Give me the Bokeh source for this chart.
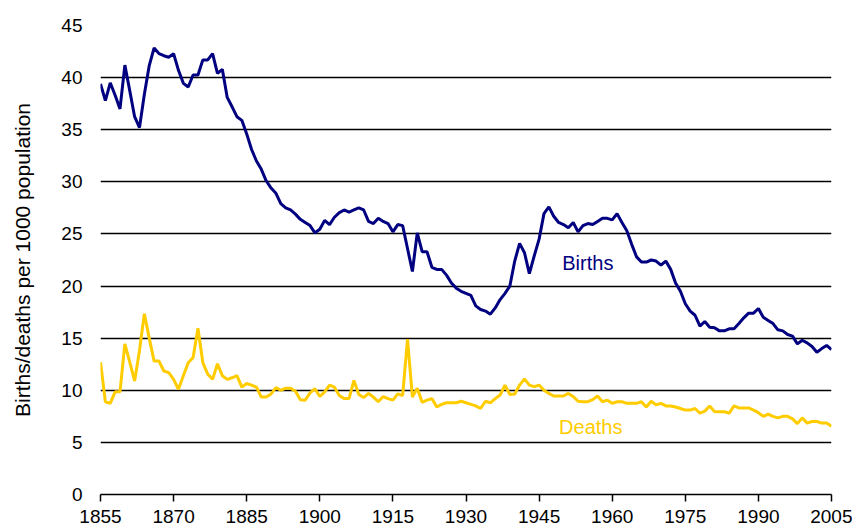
from bokeh.plotting import figure
from bokeh.models import FixedTicker, Range1d
from bokeh.core.properties import value
from bokeh.embed import file_html
from bokeh.resources import INLINE

years = list(range(1855, 2006))

births = [
    39.4, 37.8, 39.5, 38.3, 37.0,                        # 1855-1859
    41.2, 38.75, 36.25, 35.2, 38.4, 41.15, 42.85, 42.3, 42.1, 41.95,   # 1860s
    42.3, 40.7, 39.45, 39.1, 40.25, 40.25, 41.7, 41.7, 42.3, 40.4,     # 1870s
    40.8, 38.1, 37.2, 36.25, 35.9, 34.6, 33.1, 32.0, 31.2, 30.1,       # 1880s
    29.4, 28.9, 27.9, 27.5, 27.3, 26.9, 26.4, 26.1, 25.8, 25.1,        # 1890s
    25.45, 26.3, 25.9, 26.6, 27.05, 27.3, 27.1, 27.3, 27.5, 27.3,      # 1900s
    26.2, 26.0, 26.5, 26.2, 26.0, 25.2, 25.9, 25.8, 23.6, 21.4,        # 1910s
    25.1, 23.3, 23.3, 21.8, 21.6, 21.6, 21.05, 20.3, 19.8, 19.5,       # 1920s
    19.3, 19.1, 18.1, 17.75, 17.6, 17.3, 17.9, 18.7, 19.3, 20.0,       # 1930s
    22.4, 24.1, 23.2, 21.2, 22.9, 24.5, 26.95, 27.6, 26.7, 26.1,       # 1940s
    25.9, 25.6, 26.1, 25.2, 25.8, 26.0, 25.9, 26.2, 26.5, 26.5,        # 1950s
    26.35, 26.95, 26.1, 25.3, 24.0, 22.8, 22.3, 22.3, 22.5, 22.4,      # 1960s
    22.0, 22.4, 21.6, 20.3, 19.5, 18.3, 17.6, 17.2, 16.15, 16.6,       # 1970s
    16.05, 16.0, 15.7, 15.7, 15.9, 15.9, 16.4, 16.95, 17.4, 17.4,      # 1980s
    17.85, 17.0, 16.7, 16.4, 15.8, 15.7, 15.35, 15.2, 14.45, 14.8,     # 1990s
    14.55, 14.2, 13.65, 14.0, 14.3, 13.9,                              # 2000-2005
]

deaths = [
    12.7, 8.9, 8.75, 9.85, 9.85,                                       # 1855-1859
    14.45, 12.7, 10.9, 13.8, 17.35, 15.0, 12.8, 12.8, 11.85, 11.7,     # 1860s
    11.05, 10.1, 11.4, 12.65, 13.15, 15.95, 12.65, 11.55, 11.05, 12.55,  # 1870s
    11.4, 11.05, 11.2, 11.4, 10.3, 10.65, 10.5, 10.3, 9.35, 9.35,      # 1880s
    9.65, 10.25, 10.0, 10.2, 10.2, 9.9, 9.1, 9.05, 9.75, 10.15,        # 1890s
    9.4, 9.85, 10.5, 10.3, 9.5, 9.2, 9.2, 10.95, 9.6, 9.3,             # 1900s
    9.7, 9.35, 8.9, 9.4, 9.2, 9.05, 9.65, 9.5, 14.9, 9.35,             # 1910s
    10.2, 8.85, 9.05, 9.2, 8.4, 8.65, 8.8, 8.8, 8.8, 8.95,             # 1920s
    8.8, 8.65, 8.5, 8.25, 8.95, 8.8, 9.2, 9.55, 10.5, 9.6,             # 1930s
    9.65, 10.5, 11.1, 10.5, 10.35, 10.5, 10.0, 9.7, 9.45, 9.45,        # 1940s
    9.45, 9.7, 9.4, 8.95, 8.9, 8.9, 9.1, 9.45, 8.9, 9.05,              # 1950s
    8.75, 8.9, 8.9, 8.75, 8.75, 8.75, 8.9, 8.4, 8.95, 8.6,             # 1960s
    8.75, 8.5, 8.5, 8.4, 8.25, 8.1, 8.1, 8.25, 7.8, 8.0,               # 1970s
    8.5, 7.95, 7.95, 7.95, 7.8, 8.5, 8.3, 8.3, 8.3, 8.1,               # 1980s
    7.85, 7.5, 7.7, 7.5, 7.35, 7.5, 7.5, 7.25, 6.8, 7.35,              # 1990s
    6.85, 7.0, 7.0, 6.85, 6.85, 6.55,                                  # 2000-2005
]

x_ticks = list(range(1855, 2006, 15))
y_ticks = list(range(0, 46, 5))

series_labels = ["Births", "Deaths"]
label_x = [1955.0, 1955.6]
label_y = [22.2, 6.45]

NAVY = "#000080"
GOLD = "#FFCC00"
FONT = "Liberation Sans"

p = figure(width=852, height=530, output_backend="svg", toolbar_location=None,
           x_range=Range1d(1855, 2005), y_range=Range1d(0, 45),
           min_border_left=100, min_border_right=21,
           min_border_top=25, min_border_bottom=36)
p.outline_line_color = None
p.background_fill_color = "white"
p.border_fill_color = "white"

p.line(years, births, line_color=NAVY, line_width=3)
p.line(years, deaths, line_color=GOLD, line_width=3)

p.text(x=[label_x[0]], y=[label_y[0]], text=[series_labels[0]],
       text_color=NAVY, text_font=value(FONT), text_font_size="20px",
       text_align="center", text_baseline="middle")
p.text(x=[label_x[1]], y=[label_y[1]], text=[series_labels[1]],
       text_color=GOLD, text_font=value(FONT), text_font_size="20px",
       text_align="center", text_baseline="middle")

# x axis
xa = p.xaxis[0]
xa.ticker = FixedTicker(ticks=x_ticks)
xa.axis_line_color = "black"
xa.axis_line_width = 1.5
xa.major_tick_line_color = "black"
xa.major_tick_line_width = 1.5
xa.major_tick_out = 7
xa.major_tick_in = 0
xa.minor_tick_line_color = None
xa.major_label_standoff = 8
xa.major_label_text_font = FONT
xa.major_label_text_font_size = "19px"
xa.major_label_text_color = "black"

# y axis
ya = p.yaxis[0]
ya.ticker = FixedTicker(ticks=y_ticks)
ya.axis_line_color = None
ya.major_tick_line_color = None
ya.minor_tick_line_color = None
ya.major_tick_out = 0
ya.major_tick_in = 0
ya.major_label_standoff = 18
ya.major_label_text_font = FONT
ya.major_label_text_font_size = "19px"
ya.major_label_text_color = "black"
ya.axis_label = "Births/deaths per 1000 population"
ya.axis_label_text_font = FONT
ya.axis_label_text_font_size = "21px"
ya.axis_label_text_font_style = "normal"
ya.axis_label_text_color = "black"
ya.axis_label_standoff = 24

p.xgrid.grid_line_color = None
p.ygrid.ticker = FixedTicker(ticks=y_ticks)
p.ygrid.grid_line_color = "black"
p.ygrid.grid_line_width = 1.5

open("out.html", "w").write(file_html(p, INLINE))
